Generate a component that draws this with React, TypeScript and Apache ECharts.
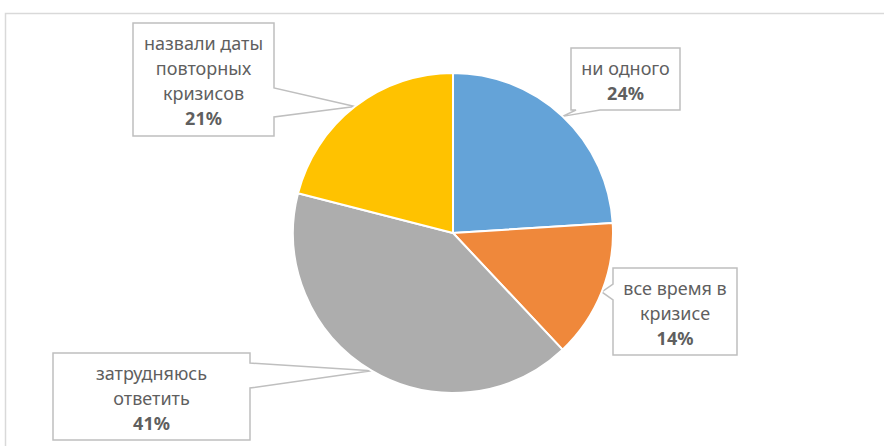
import React, { useEffect, useRef } from "react";
import * as echarts from "echarts";

// ---- data ----
const categories = [
  "ни одного",
  "все время в\nкризисе",
  "затрудняюсь\nответить",
  "назвали даты\nповторных\nкризисов",
];
const values = [24, 14, 41, 21];
const colors = ["#64A3D8", "#EF883B", "#ADADAD", "#FFC200"];

// ---- layout (callout boxes) ----
const CX = 453;
const CY = 233;
const R = 160;
type Box = { x0: number; y0: number; x1: number; y1: number; side: string; b0: number; b1: number };
const boxes: Box[] = [
  { x0: 571, y0: 48, x1: 680, y1: 110, side: "bottom", b0: 576, b1: 600 },
  { x0: 613, y0: 268, x1: 737, y1: 355, side: "left", b0: 284, b1: 300 },
  { x0: 53, y0: 353, x1: 250, y1: 440, side: "right", b0: 363, b1: 388 },
  { x0: 133, y0: 23, x1: 274, y1: 136, side: "right", b0: 88, b1: 117 },
];

const FONT = "'Noto Sans', 'Open Sans', sans-serif";

function tipFor(i: number): number[] {
  const total = values.reduce((a, b) => a + b, 0);
  let cum = 0;
  for (let k = 0; k < i; k++) cum += values[k];
  const ang = ((cum + values[i] / 2) / total) * Math.PI * 2;
  return [CX + R * Math.sin(ang), CY - R * Math.cos(ang)];
}

function calloutPoints(b: Box, tip: number[]): number[][] {
  const { x0, y0, x1, y1 } = b;
  if (b.side === "right")
    return [[x0, y0], [x1, y0], [x1, b.b0], tip, [x1, b.b1], [x1, y1], [x0, y1]];
  if (b.side === "left")
    return [[x0, y0], [x1, y0], [x1, y1], [x0, y1], [x0, b.b1], tip, [x0, b.b0]];
  return [[x0, y0], [x1, y0], [x1, y1], [b.b1, y1], tip, [b.b0, y1], [x0, y1]];
}

export default function App() {
  const ref = useRef<HTMLDivElement>(null);
  useEffect(() => {
    if (!ref.current) return;
    const chart = echarts.init(ref.current, null, { renderer: "svg" });
    const graphics: any[] = [
      {
        type: "rect",
        shape: { x: 5.5, y: 13.5, width: 1000, height: 1000 },
        style: { fill: "none", stroke: "#d9d9d9", lineWidth: 1.5 },
        silent: true,
      },
    ];
    boxes.forEach((b, i) => {
      graphics.push({
        type: "polygon",
        shape: { points: calloutPoints(b, tipFor(i)) },
        style: { fill: "#ffffff", stroke: "#bfbfbf", lineWidth: 1.5 },
        silent: true,
      });
    });
    chart.setOption({
      animation: false,
      graphic: graphics,
      series: [
        {
          type: "pie",
          center: [CX, CY],
          radius: R,
          startAngle: 90,
          clockwise: true,
          avoidLabelOverlap: false,
          z: 3,
          data: categories.map((name, i) => ({
            name,
            value: values[i],
            itemStyle: { color: colors[i] },
          })),
          itemStyle: { borderColor: "#ffffff", borderWidth: 2 },
          label: {
            show: true,
            position: "outside",
            align: "center",
            formatter: (p: any) => `{n|${p.name.split("\n").join("}\n{n|")}}\n{p|${p.value}%}`,
            rich: {
              n: { fontSize: 18, color: "#5f5f5f", lineHeight: 25, fontFamily: FONT, align: "center" },
              p: { fontSize: 18, color: "#5f5f5f", lineHeight: 25, fontFamily: FONT, fontWeight: "bold", align: "center" },
            },
          },
          labelLine: { show: false },
          labelLayout: (params: any) => {
            const b = boxes[params.dataIndex];
            return {
              x: (b.x0 + b.x1) / 2,
              y: (b.y0 + b.y1) / 2 + 1,
              align: "center",
              verticalAlign: "middle",
              hideOverlap: false,
            };
          },
          emphasis: { disabled: true },
        },
      ],
    });
    return () => chart.dispose();
  }, []);
  return (
    <div
      ref={ref}
      style={{ position: "absolute", left: 0, top: 0, width: 884, height: 446, background: "#ffffff" }}
    />
  );
}
